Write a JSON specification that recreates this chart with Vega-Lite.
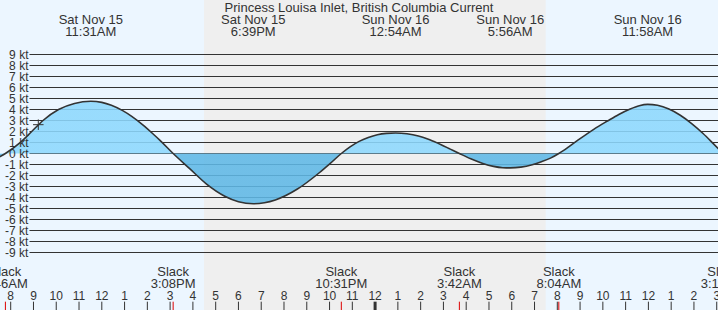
{
  "$schema": "https://vega.github.io/schema/vega-lite/v6.json",
  "width": 718,
  "height": 310,
  "padding": 0,
  "autosize": {"type": "fit", "contains": "padding"},
  "background": "#ecf6ff",
  "config": {"view": {"stroke": null}, "text": {"font": "Liberation Sans", "color": "#333333"}},
  "datasets": {
    "curve": [
      {"t": 7.45, "kt": -0.38}, {"t": 7.767, "kt": 0}, {"t": 8.452, "kt": 1.05}, {"t": 8.922, "kt": 2.0}, {"t": 9.418, "kt": 3.0}, {"t": 10.1, "kt": 4.0}, {"t": 10.8, "kt": 4.55}, {"t": 11.517, "kt": 4.75},
      {"t": 12.0, "kt": 4.65}, {"t": 12.42, "kt": 4.39}, {"t": 12.9, "kt": 3.92}, {"t": 13.33, "kt": 3.35}, {"t": 13.8, "kt": 2.6}, {"t": 14.23, "kt": 1.82}, {"t": 14.555, "kt": 1.2}, {"t": 15.133, "kt": 0},
      {"t": 15.87, "kt": -1.4}, {"t": 16.6, "kt": -2.78}, {"t": 17.4, "kt": -3.88}, {"t": 18.0, "kt": -4.38}, {"t": 18.65, "kt": -4.57},
      {"t": 19.62, "kt": -4.22}, {"t": 20.59, "kt": -3.23}, {"t": 21.55, "kt": -1.75}, {"t": 22.02, "kt": -0.92}, {"t": 22.517, "kt": 0},
      {"t": 22.9, "kt": 0.6}, {"t": 23.3, "kt": 1.1}, {"t": 23.7, "kt": 1.45}, {"t": 24.1, "kt": 1.7}, {"t": 24.5, "kt": 1.83}, {"t": 24.9, "kt": 1.87},
      {"t": 25.4, "kt": 1.8}, {"t": 25.9, "kt": 1.6}, {"t": 26.4, "kt": 1.25}, {"t": 26.9, "kt": 0.8}, {"t": 27.3, "kt": 0.4}, {"t": 27.7, "kt": 0},
      {"t": 28.2, "kt": -0.48}, {"t": 28.7, "kt": -0.88}, {"t": 29.2, "kt": -1.17}, {"t": 29.6, "kt": -1.29}, {"t": 29.933, "kt": -1.31},
      {"t": 30.4, "kt": -1.24}, {"t": 30.9, "kt": -1.02}, {"t": 31.3, "kt": -0.75}, {"t": 31.7, "kt": -0.42}, {"t": 32.067, "kt": 0},
      {"t": 32.5, "kt": 0.6}, {"t": 33.0, "kt": 1.35}, {"t": 33.6, "kt": 2.2}, {"t": 34.2, "kt": 2.95}, {"t": 34.7, "kt": 3.55}, {"t": 35.2, "kt": 4.05}, {"t": 35.6, "kt": 4.35}, {"t": 35.967, "kt": 4.47},
      {"t": 36.4, "kt": 4.38}, {"t": 36.9, "kt": 4.04}, {"t": 37.4, "kt": 3.48}, {"t": 37.9, "kt": 2.72}, {"t": 38.4, "kt": 1.82}, {"t": 38.85, "kt": 0.9}, {"t": 39.28, "kt": 0}
    ],
    "night": [{"start": 16.487, "end": 31.49}],
    "levels": [
      {"kt": 9, "label": "9 kt"}, {"kt": 8, "label": "8 kt"}, {"kt": 7, "label": "7 kt"}, {"kt": 6, "label": "6 kt"}, {"kt": 5, "label": "5 kt"},
      {"kt": 4, "label": "4 kt"}, {"kt": 3, "label": "3 kt"}, {"kt": 2, "label": "2 kt"}, {"kt": 1, "label": "1 kt"}, {"kt": 0, "label": "0 kt"},
      {"kt": -1, "label": "-1 kt"}, {"kt": -2, "label": "-2 kt"}, {"kt": -3, "label": "-3 kt"}, {"kt": -4, "label": "-4 kt"}, {"kt": -5, "label": "-5 kt"},
      {"kt": -6, "label": "-6 kt"}, {"kt": -7, "label": "-7 kt"}, {"kt": -8, "label": "-8 kt"}, {"kt": -9, "label": "-9 kt"}
    ],
    "events": [
      {"t": 11.517, "date": "Sat Nov 15", "time": "11:31AM"},
      {"t": 18.65, "date": "Sat Nov 15", "time": "6:39PM"},
      {"t": 24.9, "date": "Sun Nov 16", "time": "12:54AM"},
      {"t": 29.933, "date": "Sun Nov 16", "time": "5:56AM"},
      {"t": 35.967, "date": "Sun Nov 16", "time": "11:58AM"}
    ],
    "slacks": [
      {"t": 7.767, "label": "Slack", "time": "7:46AM"},
      {"t": 15.133, "label": "Slack", "time": "3:08PM"},
      {"t": 22.517, "label": "Slack", "time": "10:31PM"},
      {"t": 27.7, "label": "Slack", "time": "3:42AM"},
      {"t": 32.067, "label": "Slack", "time": "8:04AM"},
      {"t": 39.28, "label": "Slack", "time": "3:17PM"}
    ],
    "hours": [
      {"h": 8, "l": "8"}, {"h": 9, "l": "9"}, {"h": 10, "l": "10"}, {"h": 11, "l": "11"}, {"h": 12, "l": "12"},
      {"h": 13, "l": "1"}, {"h": 14, "l": "2"}, {"h": 15, "l": "3"}, {"h": 16, "l": "4"}, {"h": 17, "l": "5"},
      {"h": 18, "l": "6"}, {"h": 19, "l": "7"}, {"h": 20, "l": "8"}, {"h": 21, "l": "9"}, {"h": 22, "l": "10"},
      {"h": 23, "l": "11"}, {"h": 24, "l": "12"}, {"h": 25, "l": "1"}, {"h": 26, "l": "2"}, {"h": 27, "l": "3"},
      {"h": 28, "l": "4"}, {"h": 29, "l": "5"}, {"h": 30, "l": "6"}, {"h": 31, "l": "7"}, {"h": 32, "l": "8"},
      {"h": 33, "l": "9"}, {"h": 34, "l": "10"}, {"h": 35, "l": "11"}, {"h": 36, "l": "12"}, {"h": 37, "l": "1"},
      {"h": 38, "l": "2"}, {"h": 39, "l": "3"}
    ],
    "marker": [{"t": 9.212, "kt": 2.62}]
  },
  "layer": [
    {
      "data": {"name": "night"},
      "mark": {"type": "rect", "color": "#efefef", "clip": true},
      "encoding": {
        "x": {"field": "start", "type": "quantitative", "scale": {"domain": [7.5302, 39.056], "nice": false, "zero": false}, "axis": null},
        "x2": {"field": "end"}
      }
    },
    {
      "data": {"name": "levels"},
      "mark": {"type": "rule", "color": "#333333", "strokeWidth": 1, "clip": true},
      "encoding": {
        "x": {"datum": 8.8255, "type": "quantitative", "scale": {"domain": [7.5302, 39.056], "nice": false, "zero": false}, "axis": null},
        "x2": {"datum": 39.1},
        "y": {"field": "kt", "type": "quantitative", "scale": {"domain": [-14.227, 13.9545], "nice": false, "zero": false}, "axis": null}
      }
    },
    {
      "data": {"name": "curve"},
      "mark": {
        "type": "area", "interpolate": "monotone", "clip": true, "fillOpacity": 0.88,
        "color": {"gradient": "linear", "x1": 0, "y1": 0, "x2": 0, "y2": 1,
          "stops": [{"offset": 0, "color": "#8dd8fd"}, {"offset": 0.50966, "color": "#8dd8fd"}, {"offset": 0.50966, "color": "#5fb8e6"}, {"offset": 1, "color": "#5fb8e6"}]}
      },
      "encoding": {
        "x": {"field": "t", "type": "quantitative", "scale": {"domain": [7.5302, 39.056], "nice": false, "zero": false}, "axis": null},
        "y": {"field": "kt", "type": "quantitative", "scale": {"domain": [-14.227, 13.9545], "nice": false, "zero": false}, "axis": null},
        "y2": {"datum": 0}
      }
    },
    {
      "data": {"name": "levels"},
      "mark": {"type": "text", "align": "right", "baseline": "middle", "fontSize": 12, "dy": 0.5, "clip": true},
      "encoding": {
        "x": {"datum": 8.78, "type": "quantitative", "scale": {"domain": [7.5302, 39.056], "nice": false, "zero": false}, "axis": null},
        "y": {"field": "kt", "type": "quantitative", "scale": {"domain": [-14.227, 13.9545], "nice": false, "zero": false}, "axis": null},
        "text": {"field": "label"}
      }
    },
    {
      "data": {"name": "curve"},
      "mark": {"type": "line", "interpolate": "monotone", "clip": true, "color": "#333333", "strokeWidth": 1.6},
      "encoding": {
        "x": {"field": "t", "type": "quantitative", "scale": {"domain": [7.5302, 39.056], "nice": false, "zero": false}, "axis": null},
        "y": {"field": "kt", "type": "quantitative", "scale": {"domain": [-14.227, 13.9545], "nice": false, "zero": false}, "axis": null}
      }
    },
    {
      "data": {"name": "marker"},
      "mark": {"type": "point", "shape": "M-1,0L1,0M0,-1L0,1", "filled": false, "size": 110, "stroke": "#333333", "strokeWidth": 1, "opacity": 1, "clip": true},
      "encoding": {
        "x": {"field": "t", "type": "quantitative", "scale": {"domain": [7.5302, 39.056], "nice": false, "zero": false}, "axis": null},
        "y": {"field": "kt", "type": "quantitative", "scale": {"domain": [-14.227, 13.9545], "nice": false, "zero": false}, "axis": null}
      }
    },
    {
      "data": {"values": [{"title": "Princess Louisa Inlet, British Columbia Current"}]},
      "mark": {"type": "text", "align": "center", "baseline": "alphabetic", "fontSize": 13, "clip": true},
      "encoding": {
        "x": {"value": {"expr": "width / 2"}},
        "y": {"datum": 12.836, "type": "quantitative", "scale": {"domain": [-14.227, 13.9545], "nice": false, "zero": false}, "axis": null},
        "text": {"field": "title"}
      }
    },
    {
      "data": {"name": "events"},
      "mark": {"type": "text", "align": "center", "baseline": "alphabetic", "fontSize": 13, "clip": true},
      "encoding": {
        "x": {"field": "t", "type": "quantitative", "scale": {"domain": [7.5302, 39.056], "nice": false, "zero": false}, "axis": null},
        "y": {"datum": 11.745, "type": "quantitative", "scale": {"domain": [-14.227, 13.9545], "nice": false, "zero": false}, "axis": null},
        "text": {"field": "date"}
      }
    },
    {
      "data": {"name": "events"},
      "mark": {"type": "text", "align": "center", "baseline": "alphabetic", "fontSize": 13, "clip": true},
      "encoding": {
        "x": {"field": "t", "type": "quantitative", "scale": {"domain": [7.5302, 39.056], "nice": false, "zero": false}, "axis": null},
        "y": {"datum": 10.68, "type": "quantitative", "scale": {"domain": [-14.227, 13.9545], "nice": false, "zero": false}, "axis": null},
        "text": {"field": "time"}
      }
    },
    {
      "data": {"name": "slacks"},
      "mark": {"type": "text", "align": "center", "baseline": "alphabetic", "fontSize": 13, "clip": true},
      "encoding": {
        "x": {"field": "t", "type": "quantitative", "scale": {"domain": [7.5302, 39.056], "nice": false, "zero": false}, "axis": null},
        "y": {"datum": -11.11, "type": "quantitative", "scale": {"domain": [-14.227, 13.9545], "nice": false, "zero": false}, "axis": null},
        "text": {"field": "label"}
      }
    },
    {
      "data": {"name": "slacks"},
      "mark": {"type": "text", "align": "center", "baseline": "alphabetic", "fontSize": 13, "clip": true},
      "encoding": {
        "x": {"field": "t", "type": "quantitative", "scale": {"domain": [7.5302, 39.056], "nice": false, "zero": false}, "axis": null},
        "y": {"datum": -12.2, "type": "quantitative", "scale": {"domain": [-14.227, 13.9545], "nice": false, "zero": false}, "axis": null},
        "text": {"field": "time"}
      }
    },
    {
      "data": {"name": "hours"},
      "mark": {"type": "text", "align": "center", "baseline": "alphabetic", "fontSize": 12, "clip": true},
      "encoding": {
        "x": {"field": "h", "type": "quantitative", "scale": {"domain": [7.5302, 39.056], "nice": false, "zero": false}, "axis": null},
        "y": {"datum": -13.32, "type": "quantitative", "scale": {"domain": [-14.227, 13.9545], "nice": false, "zero": false}, "axis": null},
        "text": {"field": "l"}
      }
    },
    {
      "data": {"name": "hours"},
      "mark": {"type": "rule", "color": "#333333", "clip": true},
      "encoding": {
        "x": {"field": "h", "type": "quantitative", "scale": {"domain": [7.5302, 39.056], "nice": false, "zero": false}, "axis": null},
        "y": {"datum": -13.47, "type": "quantitative", "scale": {"domain": [-14.227, 13.9545], "nice": false, "zero": false}, "axis": null},
        "y2": {"datum": -14.4},
        "strokeWidth": {"condition": {"test": "datum.h == 24", "value": 3}, "value": 1}
      }
    },
    {
      "data": {"name": "slacks"},
      "mark": {"type": "rule", "color": "#dd0000", "strokeWidth": 1, "clip": true},
      "encoding": {
        "x": {"field": "t", "type": "quantitative", "scale": {"domain": [7.5302, 39.056], "nice": false, "zero": false}, "axis": null},
        "y": {"datum": -13.47, "type": "quantitative", "scale": {"domain": [-14.227, 13.9545], "nice": false, "zero": false}, "axis": null},
        "y2": {"datum": -14.4}
      }
    }
  ]
}
